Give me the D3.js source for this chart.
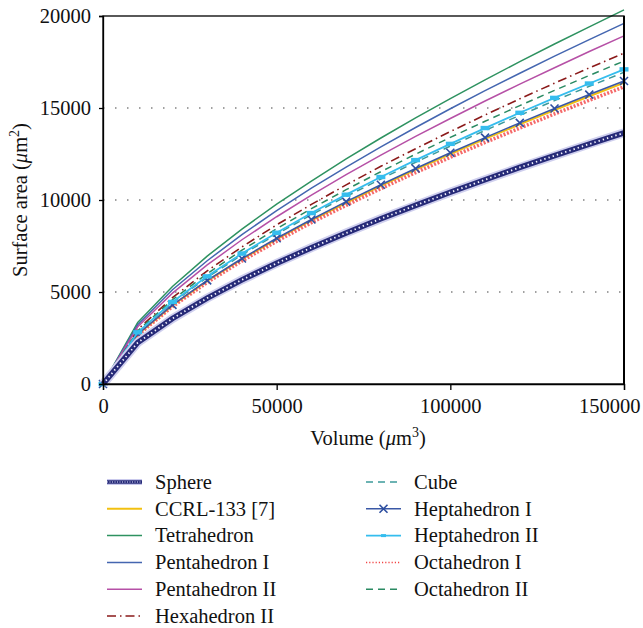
<!DOCTYPE html>
<html>
<head>
<meta charset="utf-8">
<script src="https://cdn.jsdelivr.net/npm/d3@7"></script>
<style>
  body { margin: 0; background: #fff; }
  text { font-family: "Liberation Serif", "DejaVu Serif", serif; fill: #111; }
</style>
</head>
<body>
<div id="chart"></div>
<script>
const width = 643,
  height = 628;

// volume steps (um^3)
const volumes = [0, 10000, 20000, 30000, 40000, 50000, 60000, 70000, 80000, 90000, 100000, 110000, 120000, 130000, 140000, 150000];

// surface area (um^2)
const sphere = [0, 2250, 3560, 4670, 5660, 6560, 7410, 8210, 8980, 9710, 10420, 11100, 11770, 12410, 13040, 13650];
const ccrl = [0, 2690, 4270, 5600, 6780, 7870, 8890, 9850, 10770, 11650, 12500, 13320, 14110, 14890, 15640, 16370];
const tetrahedron = [0, 3340, 5300, 6950, 8420, 9770, 11030, 12230, 13370, 14460, 15510, 16530, 17520, 18480, 19410, 20330];
const pentahedron1 = [0, 3220, 5120, 6700, 8120, 9420, 10640, 11790, 12890, 13940, 14960, 15940, 16890, 17820, 18720, 19600];
const pentahedron2 = [0, 3110, 4940, 6470, 7840, 9090, 10270, 11380, 12440, 13460, 14430, 15380, 16300, 17190, 18070, 18920];
const hexahedron2 = [0, 2960, 4690, 6150, 7450, 8650, 9760, 10820, 11830, 12790, 13720, 14620, 15500, 16350, 17180, 17980];
const cube = [0, 2790, 4420, 5790, 7020, 8140, 9200, 10190, 11140, 12050, 12930, 13780, 14600, 15400, 16180, 16940];
const heptahedron1 = [0, 2710, 4300, 5630, 6820, 7920, 8940, 9910, 10830, 11710, 12570, 13390, 14190, 14970, 15730, 16470];
const heptahedron2 = [0, 2810, 4460, 5850, 7090, 8220, 9290, 10290, 11250, 12170, 13050, 13910, 14740, 15550, 16330, 17100];
const octahedron1 = [0, 2660, 4210, 5520, 6690, 7760, 8770, 9710, 10620, 11490, 12320, 13130, 13910, 14680, 15420, 16150];
const octahedron2 = [0, 2890, 4580, 6000, 7270, 8440, 9530, 10560, 11540, 12490, 13400, 14280, 15130, 15960, 16770, 17550];

const xTicks = [0, 50000, 100000, 150000];
const yTicks = [0, 5000, 10000, 15000, 20000];
const gridTicks = [5000, 10000, 15000];

const series = [
  { name: 'Hexahedron II', values: hexahedron2, color: '#8b1a1a', width: 1.6, dash: '9,4,1.5,4', col: 0, row: 5 },
  { name: 'Tetrahedron', values: tetrahedron, color: '#2e9260', width: 1.5, col: 0, row: 2 },
  { name: 'Pentahedron I', values: pentahedron1, color: '#4466b0', width: 1.5, col: 0, row: 3 },
  { name: 'Pentahedron II', values: pentahedron2, color: '#b650a6', width: 1.5, col: 0, row: 4 },
  { name: 'Octahedron II', values: octahedron2, color: '#2a8a62', width: 1.5, dash: '7,5', col: 1, row: 4 },
  { name: 'Cube', values: cube, color: '#3c9a9a', width: 1.5, dash: '7,5', col: 1, row: 0 },
  { name: 'CCRL-133 [7]', values: ccrl, color: '#f2c010', width: 2, col: 0, row: 1 },
  { name: 'Octahedron I', values: octahedron1, color: '#f24444', width: 3.6, dash: '2,1.6', col: 1, row: 3 },
  { name: 'Heptahedron I', values: heptahedron1, color: '#3a58a6', width: 1.5, marker: 'x', col: 1, row: 1 },
  { name: 'Heptahedron II', values: heptahedron2, color: '#35bdee', width: 1.8, marker: 'bar', col: 1, row: 2 },
  { name: 'Sphere', values: sphere, color: '#262a78', width: 5.5, sphere: true, col: 0, row: 0 }
];

const margin = { top: 16, right: 19, bottom: 244, left: 103 };
const innerW = width - margin.left - margin.right,
  innerH = height - margin.top - margin.bottom;

const svg = d3.select('#chart').append('svg')
  .attr('width', width)
  .attr('height', height);

const g = svg.append('g')
  .attr('transform', `translate(${margin.left},${margin.top})`);

const x = d3.scaleLinear().domain([0, 150000]).range([0, innerW]);
const y = d3.scaleLinear().domain([0, 20000]).range([innerH, 0]);

// dotted grid
g.selectAll('.grid')
  .data(gridTicks)
  .enter().append('line')
  .attr('x1', 0)
  .attr('x2', innerW)
  .attr('y1', d => y(d))
  .attr('y2', d => y(d))
  .attr('stroke', '#444')
  .attr('stroke-width', 1.2)
  .attr('stroke-dasharray', '1.5,10.5');

const line = d3.line()
  .x((d, i) => x(volumes[i]))
  .y(d => y(d));

const plot = g.append('g');

function drawMarker(sel, type, color, cx, cy) {
  if (type === 'x') {
    sel.append('path')
      .attr('d', `M${cx - 4},${cy - 4}L${cx + 4},${cy + 4}M${cx - 4},${cy + 4}L${cx + 4},${cy - 4}`)
      .attr('stroke', color)
      .attr('stroke-width', 1.6)
      .attr('fill', 'none');
  } else if (type === 'bar') {
    sel.append('rect')
      .attr('x', cx - 4.5)
      .attr('y', cy - 2.2)
      .attr('width', 9)
      .attr('height', 4.4)
      .attr('fill', color);
  }
}

series.forEach((s) => {
  if (s.sphere) {
    plot.append('path')
      .datum(s.values)
      .attr('d', line)
      .attr('fill', 'none')
      .attr('stroke', '#cfcfee')
      .attr('stroke-width', 9);
    plot.append('path')
      .datum(s.values)
      .attr('d', line)
      .attr('fill', 'none')
      .attr('stroke', s.color)
      .attr('stroke-width', s.width);
    plot.append('path')
      .datum(s.values)
      .attr('d', line)
      .attr('fill', 'none')
      .attr('stroke', '#f4f4ff')
      .attr('stroke-width', 1.8)
      .attr('stroke-dasharray', '1.4,3');
    return;
  }
  plot.append('path')
    .datum(s.values)
    .attr('d', line)
    .attr('fill', 'none')
    .attr('stroke', s.color)
    .attr('stroke-width', s.width)
    .attr('stroke-dasharray', s.dash || null)
    .attr('opacity', s.dash && s.width > 2 ? 0.8 : 1);
  if (s.marker) {
    s.values.forEach((v, i) => drawMarker(plot, s.marker, s.marker === 'x' ? '#2e4fa0' : s.color, x(volumes[i]), y(v)));
  }
});

// frame
g.append('rect')
  .attr('x', 0)
  .attr('y', 0)
  .attr('width', innerW)
  .attr('height', innerH)
  .attr('fill', 'none')
  .attr('stroke', '#000')
  .attr('stroke-width', 1.3);
g.append('line')
  .attr('x1', innerW).attr('x2', innerW)
  .attr('y1', 0).attr('y2', innerH)
  .attr('stroke', '#000')
  .attr('stroke-width', 2);

// axes
const xAxis = g.append('g')
  .attr('transform', `translate(0,${innerH})`)
  .call(d3.axisBottom(x).tickValues(xTicks).tickFormat(d3.format('d')).tickSize(6).tickPadding(8));
const yAxis = g.append('g')
  .call(d3.axisLeft(y).tickValues(yTicks).tickFormat(d3.format('d')).tickSize(4).tickPadding(8));

[xAxis, yAxis].forEach((a) => {
  a.select('.domain').attr('stroke', '#000').attr('stroke-width', 1.3);
  a.selectAll('.tick line').attr('stroke', '#000').attr('stroke-width', 1.3);
  a.selectAll('.tick text')
    .style('font-family', '"Liberation Serif", serif')
    .style('font-size', '20.5px')
    .attr('fill', '#111');
});
// last x label sits inside the page edge
xAxis.selectAll('.tick text')
  .filter(d => d === 150000)
  .attr('text-anchor', 'end')
  .attr('dx', 16);

// axis titles
const xTitle = svg.append('text')
  .attr('x', 368)
  .attr('y', 445)
  .attr('text-anchor', 'middle')
  .style('font-size', '20.5px');
xTitle.append('tspan').text('Volume (');
xTitle.append('tspan').style('font-style', 'italic').text('\u03bc');
xTitle.append('tspan').text('m');
xTitle.append('tspan').attr('dy', -8).style('font-size', '14px').text('3');
xTitle.append('tspan').attr('dy', 8).text(')');

const yTitle = svg.append('text')
  .attr('transform', `translate(27,${margin.top + innerH / 2}) rotate(-90)`)
  .attr('text-anchor', 'middle')
  .style('font-size', '20.5px');
yTitle.append('tspan').text('Surface area (');
yTitle.append('tspan').style('font-style', 'italic').text('\u03bc');
yTitle.append('tspan').text('m');
yTitle.append('tspan').attr('dy', -8).style('font-size', '14px').text('2');
yTitle.append('tspan').attr('dy', 8).text(')');

// legend
const legendX = [107, 366],
  legendY0 = 482,
  legendDy = 26.8;

const legend = svg.append('g');
series.forEach((s) => {
  const lx = legendX[s.col],
    ly = legendY0 + s.row * legendDy;
  const item = legend.append('g');
  if (s.sphere) {
    item.append('line').attr('x1', lx).attr('x2', lx + 35).attr('y1', ly).attr('y2', ly)
      .attr('stroke', '#c9c9ec').attr('stroke-width', 6);
    item.append('line').attr('x1', lx).attr('x2', lx + 35).attr('y1', ly).attr('y2', ly)
      .attr('stroke', s.color).attr('stroke-width', 3.5);
    item.append('line').attr('x1', lx).attr('x2', lx + 35).attr('y1', ly).attr('y2', ly)
      .attr('stroke', '#e8e8ff').attr('stroke-width', 1).attr('stroke-dasharray', '1,1.5');
  } else {
    item.append('line').attr('x1', lx).attr('x2', lx + 35).attr('y1', ly).attr('y2', ly)
      .attr('stroke', s.color)
      .attr('stroke-width', s.dash && s.width > 2 ? 1.5 : Math.min(s.width, 2.5))
      .attr('stroke-dasharray', s.dash ? (s.width > 2 ? '1.2,2' : s.dash) : null);
    if (s.marker === 'x') {
      drawMarker(item, 'x', '#2e4fa0', lx + 17.5, ly);
    } else if (s.marker === 'bar') {
      item.append('rect').attr('x', lx + 15).attr('y', ly - 1.5).attr('width', 5).attr('height', 3).attr('fill', s.color);
    }
  }
  item.append('text')
    .attr('x', lx + 48)
    .attr('y', ly)
    .attr('dy', '0.33em')
    .style('font-size', '20.5px')
    .text(s.name);
});
</script>
</body>
</html>
